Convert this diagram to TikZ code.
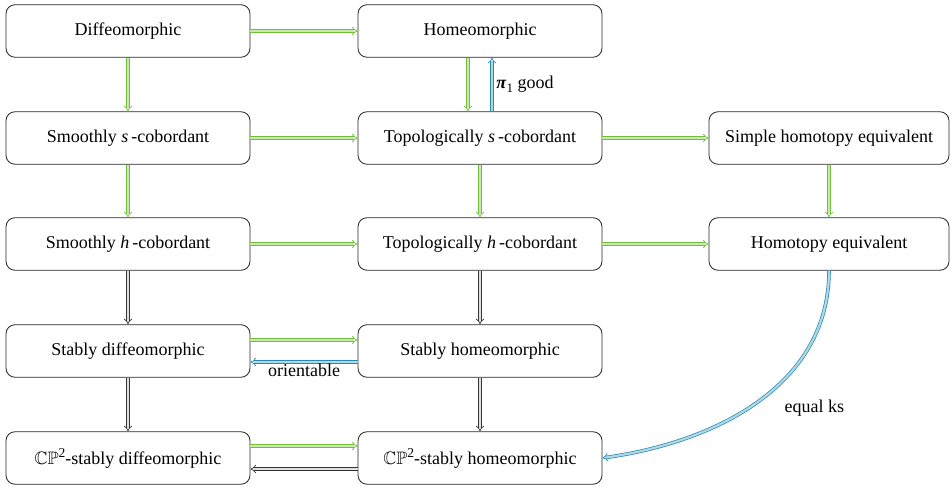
\documentclass[tikz,border=0pt]{standalone}
\usepackage{amssymb}
\usepackage{fontspec}
\setmainfont{Liberation Serif}
\usetikzlibrary{arrows.meta}
\definecolor{grA}{RGB}{112,190,58}
\definecolor{grB}{RGB}{200,232,175}
\definecolor{blA}{RGB}{38,138,176}
\definecolor{blB}{RGB}{175,215,230}
\newcommand{\CPtwo}{$\mathbb{CP}$\raisebox{0.85ex}{\fontsize{13.5}{14}\selectfont 2}}
\tikzset{
  box/.style={draw=black!85, line width=0.8pt, rounded corners=9pt, minimum height=52.5pt, inner sep=2pt, font=\fontsize{18}{21}\selectfont},
  wbox/.style={box, minimum width=244pt},
  nbox/.style={box, minimum width=240pt},
  dbl/.style={double, double distance=2.2pt, line width=0.7pt, -{Implies}},
  garr/.style={dbl, draw=grA, double=grB},
  barr/.style={dbl, draw=blA, double=blB},
  karr/.style={dbl, draw=black!80, double=black!12},
  lab/.style={font=\fontsize{18}{21}\selectfont, inner sep=2pt},
}
\begin{document}
\begin{tikzpicture}[x=1pt,y=1pt]
\useasboundingbox (0,0) rectangle (951,-486);
\node[wbox] (diff) at (128,-31) {Diffeomorphic};
\node[wbox] (homeo) at (480,-31) {Homeomorphic};
\node[wbox] (ss) at (128,-138) {Smoothly \textit{s}\,-cobordant};
\node[wbox] (ts) at (480,-138) {Topologically \textit{s}\,-cobordant};
\node[nbox] (she) at (829,-138) {Simple homotopy equivalent};
\node[wbox] (sh) at (128,-244) {Smoothly \textit{h}\,-cobordant};
\node[wbox] (th) at (480,-244) {Topologically \textit{h}\,-cobordant};
\node[nbox] (he) at (829,-244) {Homotopy equivalent};
\node[wbox] (sd) at (128,-351) {Stably diffeomorphic};
\node[wbox] (shm) at (480,-351) {Stably homeomorphic};
\node[wbox] (cd) at (128,-458) {\CPtwo-stably diffeomorphic};
\node[wbox] (ch) at (480,-458) {\CPtwo-stably homeomorphic};

\draw[garr] (diff) -- (homeo);
\draw[garr] (diff) -- (ss);
\draw[garr] ([xshift=-12pt]homeo.south) -- ([xshift=-12pt]ts.north);
\draw[barr] ([xshift=12pt]ts.north) -- node[lab, right, xshift=2pt] {\textbf{\textit{π}}\raisebox{-0.5ex}{\fontsize{13}{14}\selectfont 1} good} ([xshift=12pt]homeo.south);
\draw[garr] (ss) -- (ts);
\draw[garr] (ts) -- (she);
\draw[garr] (ss) -- (sh);
\draw[garr] (ts) -- (th);
\draw[garr] (she) -- (he);
\draw[garr] (sh) -- (th);
\draw[garr] (th) -- (he);
\draw[karr] (sh) -- (sd);
\draw[karr] (th) -- (shm);
\draw[garr] ([yshift=11pt]sd.east) -- ([yshift=11pt]shm.west);
\draw[barr] ([yshift=-11pt]shm.west) -- node[lab, below] {orientable} ([yshift=-11pt]sd.east);
\draw[karr] (sd) -- (cd);
\draw[karr] (shm) -- (ch);
\draw[garr] ([yshift=12pt]cd.east) -- ([yshift=12pt]ch.west);
\draw[karr] ([yshift=-11pt]ch.west) -- ([yshift=-11pt]cd.east);
\draw[barr] (he.south) to[out=-90, in=8] node[lab, pos=0.5, anchor=north west, xshift=24pt, yshift=4pt] {equal ks} (ch.east);
\end{tikzpicture}
\end{document}
